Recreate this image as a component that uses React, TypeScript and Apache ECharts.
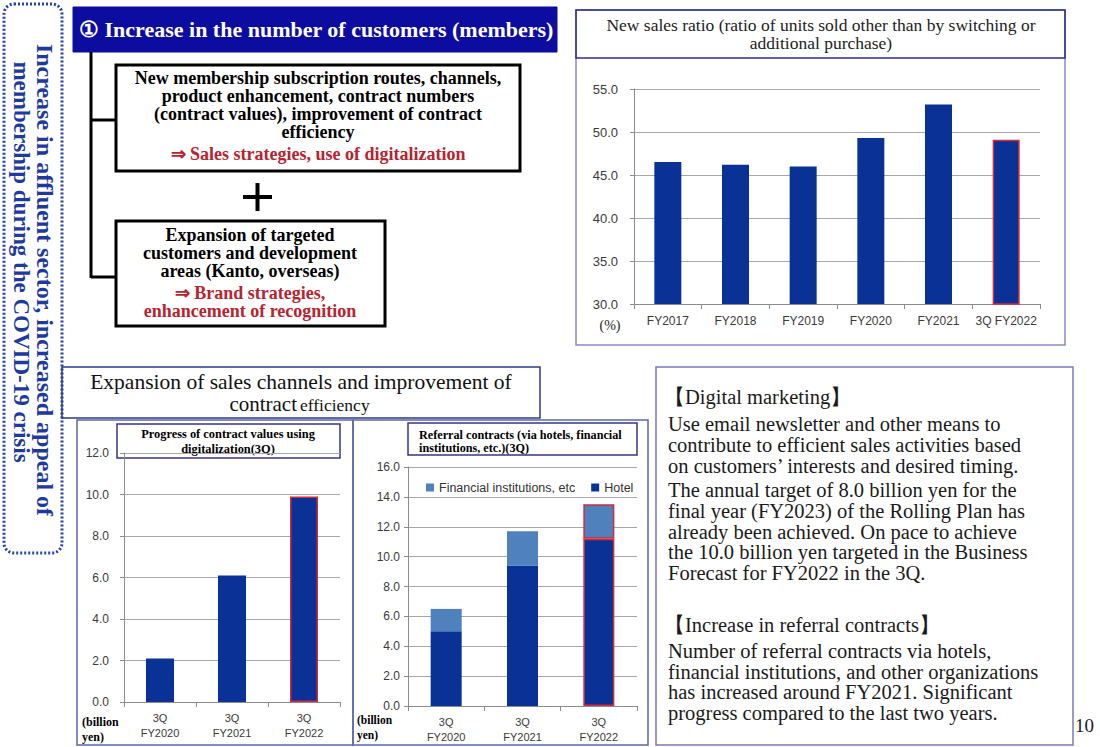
import { useEffect, useRef } from "react";
import * as echarts from "echarts";

// ---- chart data ----
const ratioYears = ["FY2017", "FY2018", "FY2019", "FY2020", "FY2021", "3Q FY2022"];
const newSalesRatio = [46.5, 46.2, 46.0, 49.3, 53.2, 49.1];
const ratioTicks = { min: 30, max: 55, interval: 5 };

const quarterLabels = ["3Q\nFY2020", "3Q\nFY2021", "3Q\nFY2022"];
const digitalContractValues = [2.1, 6.1, 9.9];
const digitalTicks = { min: 0, max: 12, interval: 2 };

const hotelReferrals = [5.0, 9.4, 11.2];
const financialReferrals = [1.5, 2.3, 2.3];
const referralSeriesNames = ["Financial institutions, etc", "Hotel"];
const referralTicks = { min: 0, max: 16, interval: 2 };

// ---- slide texts ----
const headline = "\u2460 Increase in the number of customers (members)";
const sideCaption = [
  "Increase in affluent sector, increased appeal of",
  "membership during the COVID-19 crisis",
];
const routeLines = [
  "New membership subscription routes, channels,",
  "product enhancement, contract numbers",
  "(contract values), improvement of contract",
  "efficiency",
];
const routeStrategy = "\u21D2 Sales strategies, use of digitalization";
const targetLines = ["Expansion of targeted", "customers and development", "areas (Kanto, overseas)"];
const targetStrategy = ["\u21D2 Brand strategies,", "enhancement of recognition"];
const ratioTitle = [
  "New sales ratio (ratio of units sold other than by switching or",
  "additional purchase)",
];
const channelTitle = "Expansion of sales channels and improvement of";
const digitalTitle = ["Progress of contract values using", "digitalization(3Q)"];
const referralTitle = ["Referral contracts (via hotels, financial", "institutions, etc.)(3Q)"];
const digitalHeading = "\u3010Digital marketing\u3011";
const digitalNote1 = [
  "Use email newsletter and other means to",
  "contribute to efficient sales activities based",
  "on customers\u2019 interests and desired timing.",
];
const digitalNote2 = [
  "The annual target of 8.0 billion yen for the",
  "final year (FY2023) of the Rolling Plan has",
  "already been achieved. On pace to achieve",
  "the 10.0 billion yen targeted in the Business",
  "Forecast for FY2022 in the 3Q.",
];
const referralHeading = "\u3010Increase in referral contracts\u3011";
const referralNote = [
  "Number of referral contracts via hotels,",
  "financial institutions, and other organizations",
  "has increased around FY2021. Significant",
  "progress compared to the last two years.",
];

// ---- styling ----
const SERIF = "'Liberation Serif', 'Times New Roman', serif";
const SANS = "'Liberation Sans', Arial, sans-serif";
const NAVY = "#0a3296";
const LIGHT_BLUE = "#4f81bd";
const RED = "#d12a3a";
const STRATEGY_RED = "#b8232f";
const AXIS_GREY = "#8c8c8c";
const GRID_GREY = "#a8a8a8";
const LABEL = "#3a3a3a";

type TextOpts = {
  size?: number;
  weight?: string;
  fill?: string;
  align?: string;
  family?: string;
  rotation?: number;
  lineHeight?: number;
};

function label(x: number, y: number, s: string | string[], o: TextOpts = {}) {
  const text = Array.isArray(s) ? s.join("\n") : s;
  const size = o.size ?? 16;
  return {
    type: "text",
    x,
    y,
    rotation: o.rotation ?? 0,
    silent: true,
    style: {
      text,
      fill: o.fill ?? "#000",
      fontSize: size,
      fontFamily: o.family ?? SERIF,
      fontWeight: o.weight ?? "normal",
      lineHeight: o.lineHeight ?? Math.round(size * 1.15),
      textAlign: o.align ?? "left",
      textVerticalAlign: "middle",
    },
  };
}

function box(x: number, y: number, w: number, h: number, stroke: string, lineWidth = 1.5, fill = "none") {
  return {
    type: "rect",
    silent: true,
    shape: { x, y, width: w, height: h },
    style: { fill, stroke, lineWidth },
  };
}

function seg(x1: number, y1: number, x2: number, y2: number, lineWidth = 3, stroke = "#000") {
  return {
    type: "line",
    silent: true,
    shape: { x1, y1, x2, y2 },
    style: { stroke, lineWidth },
  };
}

// last bar of each series carries a red outline
function outlineLast(values: number[]) {
  return values.map((v, i) =>
    i === values.length - 1 ? { value: v, itemStyle: { borderColor: RED, borderWidth: 1.5 } } : v
  );
}

function valueAxis(gridIndex: number, t: { min: number; max: number; interval: number }, margin: number, fontSize: number) {
  return {
    type: "value",
    gridIndex,
    min: t.min,
    max: t.max,
    interval: t.interval,
    axisLine: { show: true, lineStyle: { color: AXIS_GREY } },
    axisTick: { show: true, length: 4, lineStyle: { color: AXIS_GREY } },
    splitLine: { show: true, lineStyle: { color: GRID_GREY } },
    axisLabel: {
      formatter: (v: number) => v.toFixed(1),
      color: LABEL,
      fontSize,
      fontFamily: SANS,
      margin,
    },
  };
}

function categoryAxis(gridIndex: number, data: string[], fontSize: number, margin: number) {
  return {
    type: "category",
    gridIndex,
    data,
    axisLine: { show: true, lineStyle: { color: AXIS_GREY } },
    axisTick: { show: true, length: 5, lineStyle: { color: AXIS_GREY } },
    axisLabel: {
      interval: 0,
      color: LABEL,
      fontSize,
      lineHeight: 15,
      fontFamily: SANS,
      margin,
    },
  };
}

function buildGraphics() {
  const g: any[] = [];

  // dotted side panel with vertical caption
  g.push({
    type: "rect",
    silent: true,
    shape: { x: 4, y: 4, width: 58, height: 549, r: 10 },
    style: { fill: "none", stroke: "#2443b0", lineWidth: 3, lineDash: [2, 2] },
  });
  g.push(label(45, 280, sideCaption[0], { size: 24, weight: "bold", fill: "#1e3a9e", align: "center", rotation: -Math.PI / 2, lineHeight: 24 }));
  g.push(label(21, 262, sideCaption[1], { size: 23, weight: "bold", fill: "#1e3a9e", align: "center", rotation: -Math.PI / 2, lineHeight: 23 }));

  // headline bar
  g.push(box(73, 7, 484, 45, "#0c0ca0", 1, "#0c0ca0"));
  g.push(label(79, 29, headline, { size: 22, weight: "bold", fill: "#fff" }));

  // connector tree
  g.push(seg(91, 52, 91, 278));
  g.push(seg(91, 120, 116, 120));
  g.push(seg(91, 277, 116, 277));

  // first strategy box
  g.push(box(116, 65, 404, 106, "#000", 3));
  g.push(label(318, 105, routeLines, { size: 18, weight: "bold", align: "center", lineHeight: 18 }));
  g.push(label(318, 154, routeStrategy, { size: 18, weight: "bold", align: "center", fill: STRATEGY_RED }));

  // plus sign
  g.push(seg(243, 197, 272, 197, 4));
  g.push(seg(257.5, 183, 257.5, 211, 4));

  // second strategy box
  g.push(box(116, 221, 269, 105, "#000", 3));
  g.push(label(250, 253, targetLines, { size: 18, weight: "bold", align: "center", lineHeight: 18 }));
  g.push(label(250, 301.5, targetStrategy, { size: 18, weight: "bold", align: "center", fill: STRATEGY_RED, lineHeight: 18 }));

  // new sales ratio panel
  g.push(box(576, 10, 489, 335, "#8a8ac8", 1.5));
  g.push(box(576, 10, 489, 48, "#2c2c90", 1.5));
  g.push(label(821, 34, ratioTitle, { size: 17.5, align: "center", fill: "#222", lineHeight: 18 }));
  g.push(label(610, 325, "(%)", { size: 14, align: "center", fill: "#222" }));

  // sales channel panels
  g.push(box(62, 367, 478, 51, "#2c3a8c", 1.5));
  g.push(label(301, 382, channelTitle, { size: 21.5, align: "center", fill: "#111" }));
  g.push(label(297, 404, "contract", { size: 21, align: "right", fill: "#111" }));
  g.push(label(300, 405, "efficiency", { size: 17.5, align: "left", fill: "#111" }));
  g.push(box(77, 420, 276, 325, "#5a68a8", 1.5));
  g.push(box(353, 420, 295, 325, "#5a68a8", 1.5));

  g.push(box(117, 424, 223, 34, "#34348c", 1.5));
  g.push(label(228, 441.5, digitalTitle, { size: 12.4, weight: "bold", align: "center", lineHeight: 15 }));
  g.push(box(408, 423, 229, 32, "#34348c", 1.5));
  g.push(label(419, 441.5, referralTitle, { size: 12.2, weight: "bold", lineHeight: 13 }));

  g.push(label(82, 729.5, ["(billion", "yen)"], { size: 12, weight: "bold", lineHeight: 15 }));
  g.push(label(357, 727, ["(billion", "yen)"], { size: 11.5, weight: "bold", lineHeight: 15 }));

  // notes panel
  g.push(box(656, 367, 417, 378, "#7a7ab8", 1.5));
  g.push(label(664, 397, digitalHeading, { size: 20.5, fill: "#1a1a1a" }));
  g.push(label(668, 445, digitalNote1, { size: 20.5, fill: "#1a1a1a", lineHeight: 21 }));
  g.push(label(668, 531.5, digitalNote2, { size: 20.5, fill: "#1a1a1a", lineHeight: 20.8 }));
  g.push(label(664, 625, referralHeading, { size: 20.5, fill: "#1a1a1a" }));
  g.push(label(668, 682, referralNote, { size: 20.5, fill: "#1a1a1a", lineHeight: 20.6 }));
  g.push(label(1075, 725, "10", { size: 19, fill: "#1a1a1a" }));

  return g;
}

function buildOption() {
  return {
    animation: false,
    backgroundColor: "#fff",
    grid: [
      { left: 634, top: 89, width: 406, height: 215 },
      { left: 124, top: 453, width: 216, height: 249 },
      { left: 408, top: 467, width: 229, height: 239 },
    ],
    xAxis: [
      categoryAxis(0, ratioYears, 12, 9),
      categoryAxis(1, quarterLabels, 11, 8),
      categoryAxis(2, quarterLabels, 11, 8),
    ],
    yAxis: [
      valueAxis(0, ratioTicks, 16, 13),
      valueAxis(1, digitalTicks, 15, 12),
      valueAxis(2, referralTicks, 8, 12),
    ],
    legend: {
      data: referralSeriesNames,
      left: 421,
      top: 476,
      icon: "rect",
      itemWidth: 8,
      itemHeight: 8,
      itemGap: 16,
      textStyle: { fontSize: 12.5, fontFamily: SANS, color: "#333" },
    },
    series: [
      {
        type: "bar",
        xAxisIndex: 0,
        yAxisIndex: 0,
        barWidth: 27,
        itemStyle: { color: NAVY },
        data: outlineLast(newSalesRatio),
      },
      {
        type: "bar",
        xAxisIndex: 1,
        yAxisIndex: 1,
        barWidth: 28,
        itemStyle: { color: NAVY },
        data: outlineLast(digitalContractValues),
      },
      {
        name: referralSeriesNames[1],
        type: "bar",
        stack: "referral",
        xAxisIndex: 2,
        yAxisIndex: 2,
        barWidth: 31,
        itemStyle: { color: NAVY },
        data: outlineLast(hotelReferrals),
      },
      {
        name: referralSeriesNames[0],
        type: "bar",
        stack: "referral",
        xAxisIndex: 2,
        yAxisIndex: 2,
        barWidth: 31,
        itemStyle: { color: LIGHT_BLUE },
        data: outlineLast(financialReferrals),
      },
    ],
    graphic: { elements: buildGraphics() },
  };
}

export default function App() {
  const ref = useRef<HTMLDivElement>(null);
  useEffect(() => {
    const el = ref.current;
    if (!el) return;
    const chart = echarts.init(el, undefined, { renderer: "svg" });
    chart.setOption(buildOption() as any);
    return () => chart.dispose();
  }, []);
  return (
    <div
      ref={ref}
      style={{ position: "fixed", left: 0, top: 0, width: 1100, height: 747, background: "#fff" }}
    />
  );
}
